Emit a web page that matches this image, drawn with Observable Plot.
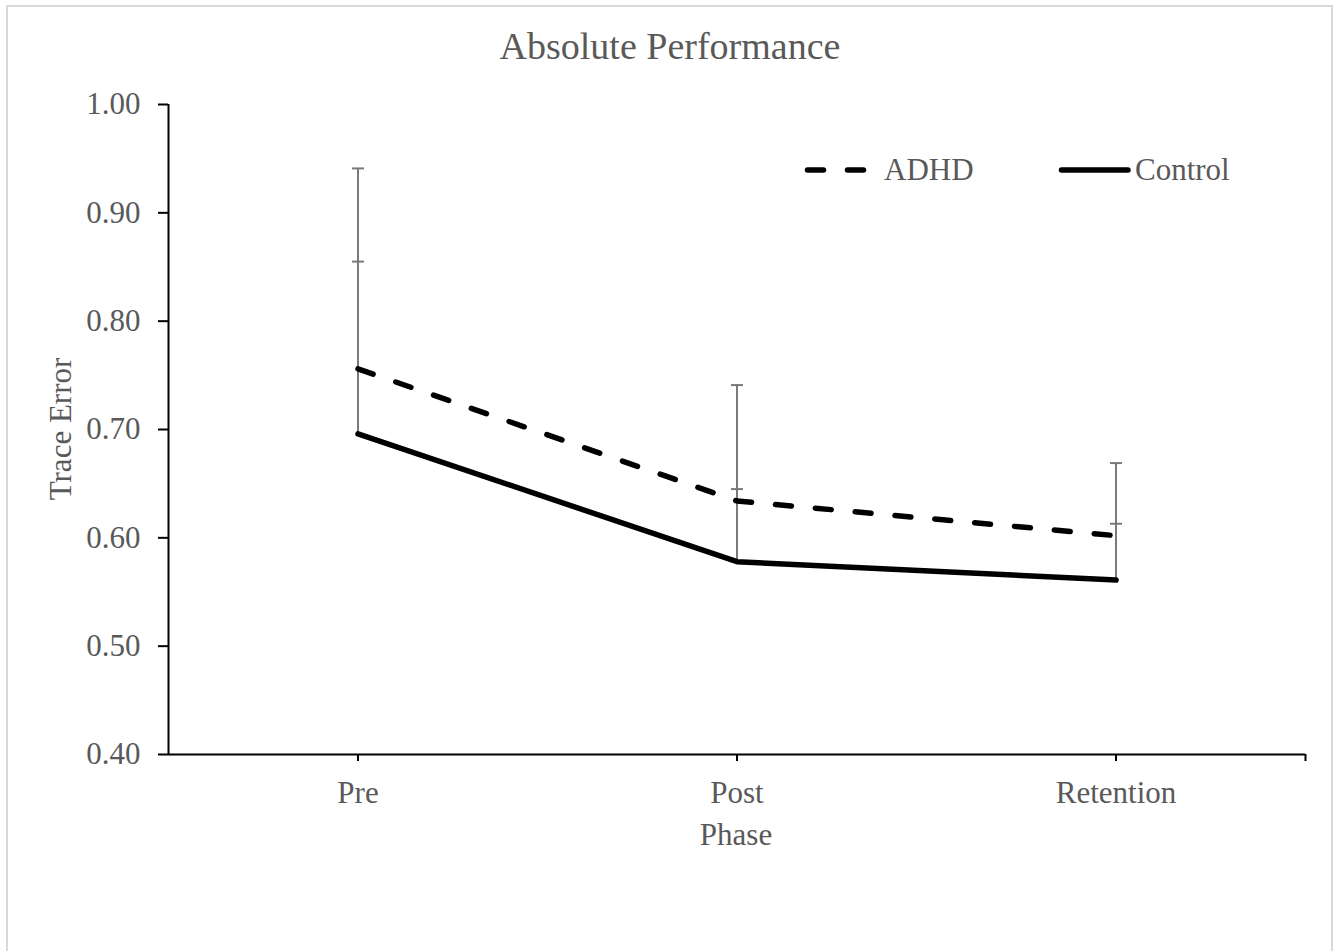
<!DOCTYPE html>
<html>
<head>
<meta charset="utf-8">
<script src="https://cdn.jsdelivr.net/npm/d3@7"></script>
<script src="https://cdn.jsdelivr.net/npm/@observablehq/plot@0.6"></script>
<style>
  html, body { margin: 0; padding: 0; background: #fff; }
  #frame { position: absolute; left: 6px; top: 5px; width: 1327px; height: 970px; border: 2px solid #d9d9d9; box-sizing: border-box; }
  #chart { position: absolute; left: 0; top: 0; }
  #overlay { position: absolute; left: 0; top: 0; pointer-events: none; }
  text { font-family: "Liberation Serif", "Times New Roman", serif; }
</style>
</head>
<body>
<div id="frame"></div>
<div id="chart"></div>
<svg id="overlay" width="1343" height="951" xmlns="http://www.w3.org/2000/svg">
  <text x="670" y="59" text-anchor="middle" font-size="38" fill="#595959">Absolute Performance</text>
  <text transform="translate(71,429) rotate(-90)" text-anchor="middle" font-size="31" fill="#595959">Trace Error</text>
  <text x="736" y="845" text-anchor="middle" font-size="31" fill="#595959">Phase</text>
  <line x1="807.5" y1="170" x2="867.5" y2="170" stroke="black" stroke-width="5.5" stroke-dasharray="16,24" stroke-linecap="round"/>
  <text x="884" y="180" font-size="31" fill="#595959">ADHD</text>
  <line x1="1061.5" y1="170" x2="1128" y2="170" stroke="black" stroke-width="5.5" stroke-linecap="round"/>
  <text x="1135" y="180" font-size="31" fill="#595959">Control</text>
</svg>
<script>
// ---- data ----
const phases = ["Pre", "Post", "Retention"];
const adhdMean = [0.756, 0.634, 0.602];
const adhdErr = [0.185, 0.107, 0.067];
const controlMean = [0.696, 0.578, 0.561];
const controlErr = [0.159, 0.067, 0.052];
const yTicks = [0.40, 0.50, 0.60, 0.70, 0.80, 0.90, 1.00];

const adhd = phases.map((p, i) => ({i, phase: p, group: "ADHD", mean: adhdMean[i], err: adhdErr[i]}));
const control = phases.map((p, i) => ({i, phase: p, group: "Control", mean: controlMean[i], err: controlErr[i]}));
const all = adhd.concat(control);

const xDomain = [-0.5, phases.length - 0.5];
const yDomain = [yTicks[0], yTicks[yTicks.length - 1]];

const capSymbol = {
  draw(context, size) {
    const h = Math.sqrt(size / Math.PI);
    context.moveTo(-h, 0);
    context.lineTo(h, 0);
  }
};

const chart = Plot.plot({
  width: 1343,
  height: 951,
  marginLeft: 168,
  marginTop: 104,
  marginRight: 38,
  marginBottom: 197,
  style: {fontFamily: "'Liberation Serif', 'Times New Roman', serif", fontSize: "31px", color: "#595959", background: "transparent", overflow: "visible"},
  x: {type: "linear", domain: xDomain},
  y: {domain: yDomain},
  marks: [
    Plot.ruleX(all, {x: "i", y1: "mean", y2: d => d.mean + d.err, stroke: "#7a7a7a", strokeWidth: 2}),
    Plot.dot(all, {x: "i", y: d => d.mean + d.err, symbol: capSymbol, r: 6, stroke: "#7a7a7a", strokeWidth: 2, fill: "none"}),
    Plot.line(adhd, {x: "i", y: "mean", stroke: "black", strokeWidth: 5.5, strokeDasharray: "16,24", strokeLinecap: "round"}),
    Plot.line(control, {x: "i", y: "mean", stroke: "black", strokeWidth: 5.5, strokeLinecap: "round"}),
    Plot.ruleX([xDomain[0]], {stroke: "black", strokeWidth: 2}),
    Plot.ruleY([yDomain[0]], {stroke: "black", strokeWidth: 2}),
    Plot.axisY({ticks: yTicks, tickFormat: d3.format(".2f"), tickSize: 10, tickPadding: 18, stroke: "black", strokeWidth: 2, fill: "#595959", label: null}),
    Plot.axisX({ticks: [0, 1, 2, xDomain[1]], tickFormat: d => (Number.isInteger(d) ? phases[d] : ""), tickSize: 7, tickPadding: 19, stroke: "black", strokeWidth: 2, fill: "#595959", label: null})
  ]
});
document.getElementById("chart").appendChild(chart);
</script>
</body>
</html>
